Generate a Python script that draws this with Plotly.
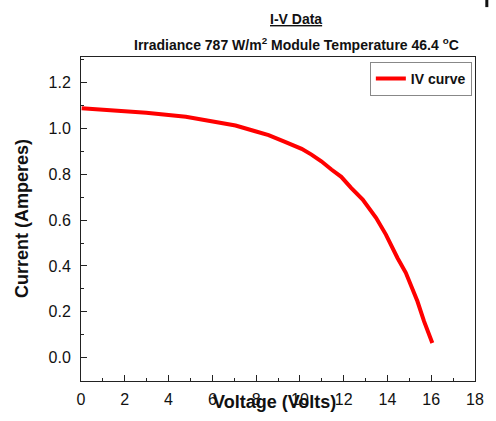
import plotly.graph_objects as go

voltage = [0.03, 1.01, 2.98, 4.79, 6.0, 7.06, 7.96, 8.57, 9.32, 10.08, 10.53, 10.98,
           11.44, 11.89, 12.34, 12.87, 13.48, 13.93, 14.46, 14.84, 15.37, 15.67, 16.05]
current = [1.088, 1.083, 1.069, 1.051, 1.032, 1.013, 0.988, 0.971, 0.942, 0.911, 0.886, 0.857,
           0.821, 0.789, 0.741, 0.690, 0.610, 0.537, 0.435, 0.370, 0.246, 0.159, 0.064]
series_name = "IV curve"
x_ticks = [0, 2, 4, 6, 8, 10, 12, 14, 16, 18]
y_ticks = [0.0, 0.2, 0.4, 0.6, 0.8, 1.0, 1.2]

FONT = "Liberation Sans, Arial, sans-serif"

fig = go.Figure()
fig.add_trace(go.Scatter(x=voltage, y=current, mode="lines", name=series_name,
                         line=dict(color="#ff0000", width=4)))

axis_common = dict(showline=True, linecolor="#222222", linewidth=1, mirror=True,
                   ticks="inside", ticklen=6, tickcolor="#222222", showgrid=False,
                   zeroline=False, tickfont=dict(family=FONT, size=16, color="#111111"))

fig.update_xaxes(range=[0, 18], tickvals=x_ticks, ticklabelstandoff=4,
                 minor=dict(dtick=1, ticks="inside", ticklen=3, tickcolor="#222222"),
                 **axis_common)
fig.update_yaxes(range=[-0.102, 1.312], tickvals=y_ticks, tickformat=".1f", ticklabelstandoff=6,
                 minor=dict(dtick=0.1, ticks="inside", ticklen=3, tickcolor="#222222"),
                 **axis_common)

fig.update_layout(
    width=496, height=421,
    margin=dict(l=81, r=18, t=57, b=40),
    paper_bgcolor="white", plot_bgcolor="white",
    font=dict(family=FONT, color="#111111"),
    showlegend=True,
    legend=dict(x=0.992, y=0.985, xanchor="right", yanchor="top",
                bgcolor="white", bordercolor="#888888", borderwidth=1,
                font=dict(family=FONT, size=14, color="#111111", weight="bold"),
                itemwidth=30, tracegroupgap=0),
    annotations=[
        dict(text="<b><u>I-V Data</u></b>", xref="paper", yref="paper",
             x=0.5466, y=1.116, xanchor="center", yanchor="middle", showarrow=False,
             font=dict(family=FONT, size=14, color="#111111")),
        dict(text="<b>Irradiance 787 W/m<sup>2</sup> Module Temperature 46.4 <sup>o</sup>C</b>",
             xref="paper", yref="paper", x=0.5466, y=1.006, xanchor="center", yanchor="bottom",
             showarrow=False, font=dict(family=FONT, size=14, color="#111111")),
        dict(text="<b>Voltage (Volts)</b>", xref="paper", yref="paper",
             x=0.49, y=0, yshift=-21, xanchor="center", yanchor="middle", showarrow=False,
             font=dict(family=FONT, size=18, color="#111111")),
        dict(text="<b>Current (Amperes)</b>", xref="paper", yref="paper",
             x=0, xshift=-59, y=0.5, xanchor="center", yanchor="middle", textangle=-90,
             showarrow=False, font=dict(family=FONT, size=18, color="#111111")),
    ],
    shapes=[dict(type="line", xref="paper", yref="paper", x0=1.030, x1=1.030,
                 y0=1.154, y1=1.176, line=dict(color="#111111", width=3))],
)

fig.write_html("out.html", config={"displayModeBar": False},
               post_script="document.body.style.margin='0';")
